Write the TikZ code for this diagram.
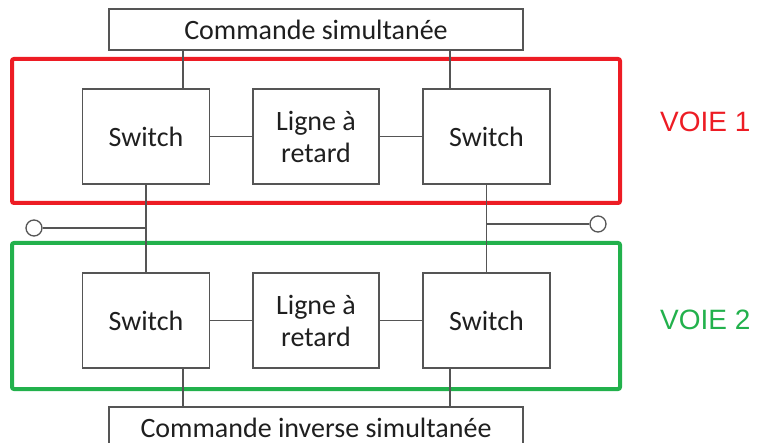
\documentclass[tikz,border=0pt]{standalone}
\usepackage{fontspec}
\setmainfont{Carlito}
\newfontfamily\voiefont{Liberation Sans}
\usetikzlibrary{positioning}
\definecolor{crouge}{HTML}{ED1C24}
\definecolor{cvert}{HTML}{22B14C}
\definecolor{ctrait}{HTML}{555555}
\tikzset{
  blk/.style={draw=ctrait, line width=1.3pt, fill=white, inner sep=0pt, font=\fontsize{28}{32}\selectfont, text=black!88, align=center},
  sw/.style={blk, minimum width=127pt, minimum height=95pt},
  cmd/.style={blk, minimum width=414pt, minimum height=41pt},
  voie/.style={line width=4pt, rounded corners=2pt, minimum width=608pt, inner sep=0pt},
  vlbl/.style={font=\voiefont\fontsize{28}{34}\selectfont, anchor=west, inner sep=0pt},
  lien/.style={draw=ctrait, line width=1.3pt},
  term/.style={circle, draw=ctrait, line width=1.3pt, fill=white, minimum size=16pt, inner sep=0pt},
}
\begin{document}
\begin{tikzpicture}[x=1pt,y=-1pt]
\useasboundingbox (0,0) rectangle (759,443);
% cadres des voies
\node[voie, draw=crouge, minimum height=144pt] (v1) at (316,131) {};
\node[voie, draw=cvert, minimum height=146pt] (v2) at (316,316) {};
\node[vlbl, text=crouge] (n1) at (660,122) {VOIE 1};
\node[vlbl, text=cvert] (n2) at (660,320) {VOIE 2};
% commandes
\node[cmd] (top) at (316,29.5) {Commande simultanée};
\node[cmd] (bot) at (316,427.5) {Commande inverse simultanée};
% voie 1
\node[sw] (s1l) at (146,136.5) {Switch};
\node[sw, minimum width=126pt] (l1) at (316,136.5) {Ligne à\\retard};
\node[sw] (s1r) at (486.5,136.5) {Switch};
% voie 2
\node[sw] (s2l) at (146,320.5) {Switch};
\node[sw, minimum width=126pt] (l2) at (316,320.5) {Ligne à\\retard};
\node[sw] (s2r) at (486.5,320.5) {Switch};
% bornes
\node[term] (tg) at (34,228) {};
\node[term] (td) at (598,224) {};
% liaisons
\draw[lien] (183,0 |- top.south) -- (183,0 |- s1l.north);
\draw[lien] (450,0 |- top.south) -- (450,0 |- s1r.north);
\draw[lien] (s1l) -- (l1); \draw[lien] (l1) -- (s1r);
\draw[lien] (s2l) -- (l2); \draw[lien] (l2) -- (s2r);
\draw[lien] (s1l.south) -- (s2l.north);
\draw[lien] (s1r.south) -- (s2r.north);
\draw[lien] (tg) -- (tg -| s1l.south);
\draw[lien] (td) -- (td -| s1r.south);
\draw[lien] (183,0 |- s2l.south) -- (183,0 |- bot.north);
\draw[lien] (450,0 |- s2r.south) -- (450,0 |- bot.north);
\end{tikzpicture}
\end{document}
